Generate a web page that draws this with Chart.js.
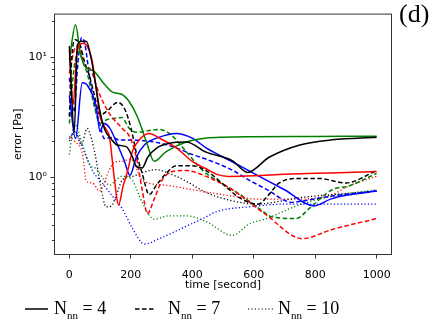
<!DOCTYPE html>
<html>
<head>
<meta charset="utf-8">
<script src="https://cdn.jsdelivr.net/npm/chart.js@4/dist/chart.umd.min.js"></script>
<style>
  body { margin: 0; background: #fff; }
  #wrap { position: relative; width: 436px; height: 327px; overflow: hidden; }
  #chart { position: absolute; left: 0; top: 0; }
  .lg { position: absolute; font-family: "Liberation Serif", serif; font-size: 18px; line-height: 18px; color: #000; white-space: nowrap; }
  .lg .sub { font-size: 11px; position: relative; top: 5px; }
  .sample { position: absolute; }
  #panel { position: absolute; left: 399px; top: 1px; font-family: "Liberation Serif", serif; font-size: 26px; line-height: 26px; }
</style>
</head>
<body>
<div id="wrap">
  <canvas id="chart" width="436" height="327"></canvas>
  <div id="panel">(d)</div>
  <svg class="sample" style="left:25px;top:305px" width="24" height="8"><line x1="0" y1="4" x2="23" y2="4" stroke="#000" stroke-width="1.5"/></svg>
  <div class="lg" style="left:54px;top:299px">N<span class="sub">nn</span> = 4</div>
  <svg class="sample" style="left:135px;top:305px" width="22" height="8"><line x1="0" y1="4" x2="21" y2="4" stroke="#000" stroke-width="1.5" stroke-dasharray="4.5,2.5"/></svg>
  <div class="lg" style="left:168px;top:299px">N<span class="sub">nn</span> = 7</div>
  <svg class="sample" style="left:248px;top:305px" width="26" height="8"><line x1="0" y1="4" x2="25" y2="4" stroke="#000" stroke-width="1.2" stroke-dasharray="1.2,2.2"/></svg>
  <div class="lg" style="left:278px;top:299px">N<span class="sub">nn</span> = 10</div>
</div>
<script>
// ticks
const xTicks = [0, 200, 400, 600, 800, 1000];
const yTicks = [0.3, 0.4, 0.5, 0.6, 0.7, 0.8, 0.9, 1, 2, 3, 4, 5, 6, 7, 8, 9, 10, 20];
const yMajorLabels = {1: '10\u2070', 10: '10\u00b9'};

// N_nn = 4 (solid)
const blackSolidT = [0, 16, 26, 40, 55, 70, 85, 98, 115, 135, 155, 185, 202, 220, 237, 255, 285, 330, 380, 445, 530, 580, 650, 750, 855, 1000];
const blackSolidE = [12.3, 2.4, 12.5, 13.5, 13.5, 10, 6, 3.7, 2.5, 2.1, 1.86, 1.8, 1.55, 1.22, 1.2, 1.47, 1.76, 1.93, 1.97, 1.62, 1.38, 1.1, 1.47, 1.86, 2.05, 2.15];
const redSolidT = [0, 12, 25, 45, 60, 75, 88, 100, 120, 130, 147, 160, 175, 190, 205, 233, 260, 293, 348, 400, 445, 480, 520, 600, 700, 850, 1000];
const redSolidE = [11.5, 4, 11, 13, 12, 9, 5.3, 3.2, 2.5, 2.2, 0.95, 0.59, 0.85, 1.14, 1.64, 2.12, 2.32, 2.12, 1.76, 1.36, 1.18, 1.06, 1.02, 1.03, 1.06, 1.09, 1.12];
const greenSolidT = [0, 20, 35, 50, 80, 115, 140, 170, 195, 221, 250, 276, 315, 380, 445, 500, 600, 800, 1000];
const greenSolidE = [9.5, 18.5, 11, 8.4, 7.6, 5.9, 5.1, 4.9, 4.25, 3.2, 2.0, 1.36, 1.64, 1.97, 2.12, 2.16, 2.18, 2.19, 2.2];
const blueSolidT = [0, 20, 42, 59, 87, 100, 112, 130, 157, 179, 197, 218, 244, 293, 348, 400, 445, 530, 600, 700, 797, 850, 900, 1000];
const blueSolidE = [4.8, 2.1, 6.1, 5.8, 3.9, 2.4, 2.8, 2.6, 1.86, 1.37, 1.04, 1.47, 1.86, 2.16, 2.32, 2.12, 1.76, 1.35, 1.08, 0.79, 0.58, 0.66, 0.71, 0.77];

// N_nn = 7 (dashed)
const blackDashT = [0, 8, 20, 35, 50, 65, 80, 100, 125, 157, 180, 200, 218, 237, 260, 283, 315, 348, 400, 445, 500, 553, 615, 645, 683, 750, 813, 900, 1000];
const blackDashE = [3.2, 10, 13.9, 12.5, 9, 7, 5, 3.3, 3.6, 4.2, 3.7, 2.6, 1.6, 1.08, 0.72, 0.86, 1.08, 1.25, 1.25, 1.14, 0.88, 0.68, 0.6, 0.7, 0.9, 0.98, 0.98, 0.9, 1.14];
const redDashT = [0, 17, 33, 50, 65, 98, 130, 172, 195, 218, 237, 254, 276, 302, 335, 380, 445, 530, 640, 758, 855, 1000];
const redDashE = [7.3, 11.6, 12.3, 8.4, 8.1, 4.9, 3.4, 2.55, 2.2, 1.47, 0.79, 0.5, 0.66, 0.95, 1.12, 1.14, 1.02, 0.79, 0.49, 0.31, 0.37, 0.455];
const greenDashT = [0, 15, 30, 45, 60, 80, 100, 120, 150, 170, 195, 218, 260, 290, 325, 380, 423, 445, 500, 563, 618, 660, 738, 780, 855, 910, 1000];
const greenDashE = [2.8, 8, 11, 9, 7, 4, 2.8, 3.0, 3.1, 3.15, 2.55, 2.37, 2.45, 2.5, 2.32, 1.64, 1.22, 1.08, 0.88, 0.7, 0.55, 0.47, 0.455, 0.55, 0.79, 0.85, 1.08];
const blueDashT = [0, 15, 28, 40, 50, 65, 81, 98, 114, 140, 163, 205, 260, 293, 348, 400, 445, 530, 585, 640, 725, 748, 855, 1000];
const blueDashE = [6.7, 3.5, 9, 14.5, 13, 7.1, 4.1, 2.84, 2.1, 2.15, 2.04, 2.04, 2.0, 1.93, 1.76, 1.55, 1.42, 1.15, 0.95, 0.8, 0.62, 0.63, 0.7, 0.77];

// N_nn = 10 (dotted)
const blackDotT = [0, 20, 39, 58, 72, 85, 100, 120, 137, 152, 172, 205, 250, 283, 325, 380, 445, 530, 610, 750, 855, 1000];
const blackDotE = [2.0, 2.4, 1.86, 2.55, 2.1, 1.5, 0.9, 0.57, 0.58, 0.7, 0.95, 1.02, 1.12, 1.16, 1.08, 0.93, 0.75, 0.64, 0.6, 0.68, 0.72, 0.77];
const redDotT = [0, 17, 43, 55, 75, 98, 110, 125, 147, 172, 200, 237, 315, 400, 530, 618, 750, 855, 910, 1000];
const redDotE = [2.2, 2.0, 1.55, 0.93, 0.9, 0.77, 0.85, 1.08, 1.34, 1.36, 1.42, 0.95, 0.86, 0.79, 0.7, 0.66, 0.66, 0.72, 0.85, 1.02];
const greenDotT = [0, 17, 43, 65, 87, 114, 130, 152, 169, 185, 205, 237, 276, 325, 380, 445, 530, 585, 640, 748, 855, 1000];
const greenDotE = [1.55, 2.8, 1.86, 1.29, 1.18, 0.95, 0.86, 0.95, 1.02, 1.02, 0.95, 0.62, 0.45, 0.48, 0.48, 0.43, 0.33, 0.41, 0.455, 0.59, 0.7, 0.79];
const blueDotT = [0, 17, 43, 75, 107, 140, 172, 205, 244, 293, 348, 400, 445, 478, 585, 700, 1000];
const blueDotE = [2.1, 2.4, 1.76, 1.14, 0.9, 0.7, 0.55, 0.38, 0.28, 0.31, 0.36, 0.415, 0.47, 0.52, 0.57, 0.6, 0.6];

const DASH = [4.5, 2.5];
const DOT = [1.2, 2.2];

function series(t, e, color, dash) {
    return {
        data: t.map((x, i) => ({x: x, y: e[i]})),
        borderColor: color,
        borderWidth: dash === DOT ? 1.3 : 1.5,
        borderDash: dash || [],
        pointRadius: 0,
        fill: false,
        cubicInterpolationMode: 'monotone'
    };
}

const datasets = [
    series(blackSolidT, blackSolidE, '#000000'),
    series(redSolidT, redSolidE, '#ff0000'),
    series(greenSolidT, greenSolidE, '#008000'),
    series(blueSolidT, blueSolidE, '#0000ff'),
    series(blackDashT, blackDashE, '#000000', DASH),
    series(redDashT, redDashE, '#ff0000', DASH),
    series(greenDashT, greenDashE, '#008000', DASH),
    series(blueDashT, blueDashE, '#0000ff', DASH),
    series(blackDotT, blackDotE, '#000000', DOT),
    series(redDotT, redDotE, '#ff0000', DOT),
    series(greenDotT, greenDotE, '#008000', DOT),
    series(blueDotT, blueDotE, '#0000ff', DOT)
];

// frame + log minor ticks, matplotlib style
const framePlugin = {
    id: 'frame',
    afterDraw(chart) {
        const {ctx, chartArea: a} = chart;
        const y = chart.scales.y;
        ctx.save();
        ctx.strokeStyle = '#000';
        ctx.lineWidth = 0.8;
        yTicks.forEach(v => {
            const py = Math.round(y.getPixelForValue(v)) + 0.5;
            const len = yMajorLabels[v] ? 3.5 : 2;
            ctx.beginPath();
            ctx.moveTo(a.left - len, py);
            ctx.lineTo(a.left, py);
            ctx.stroke();
        });
        ctx.strokeStyle = '#333';
        ctx.lineWidth = 1;
        ctx.strokeRect(a.left + 0.5, a.top + 0.5, a.right - a.left - 1, a.bottom - a.top - 1);
        ctx.restore();
    }
};

const tickFont = {family: 'DejaVu Sans', size: 11};

new Chart(document.getElementById('chart'), {
    type: 'line',
    data: {datasets: datasets},
    options: {
        responsive: false,
        animation: false,
        events: [],
        layout: {padding: {left: 0, top: 3, right: 44, bottom: 0}},
        plugins: {legend: {display: false}, tooltip: {enabled: false}},
        scales: {
            x: {
                type: 'linear',
                min: -50,
                max: 1050,
                afterBuildTicks: s => { s.ticks = xTicks.map(v => ({value: v})); },
                afterFit: s => { s.height = 72; },
                ticks: {font: tickFont, color: '#000', padding: 10, maxRotation: 0, autoSkip: false,
                    callback: v => String(v)},
                grid: {display: true, drawOnChartArea: false, drawTicks: true, tickLength: 3.5, tickColor: '#000', tickWidth: 0.8},
                border: {display: false},
                title: {display: true, text: 'time [second]', font: tickFont, color: '#000', padding: {top: 0, bottom: 35.4}}
            },
            y: {
                type: 'logarithmic',
                min: 0.227,
                max: 22.9,
                afterBuildTicks: s => { s.ticks = yTicks.map(v => ({value: v})); },
                afterFit: s => { s.width = 54; },
                ticks: {
                    font: tickFont, color: '#000', padding: 7, autoSkip: false,
                    callback: v => yMajorLabels[v] || ''
                },
                grid: {display: false, drawTicks: false},
                border: {display: false},
                title: {display: true, text: 'error [Pa]', font: tickFont, color: '#000', padding: {top: 11.4, bottom: 0}}
            }
        }
    },
    plugins: [framePlugin]
});
</script>
</body>
</html>
